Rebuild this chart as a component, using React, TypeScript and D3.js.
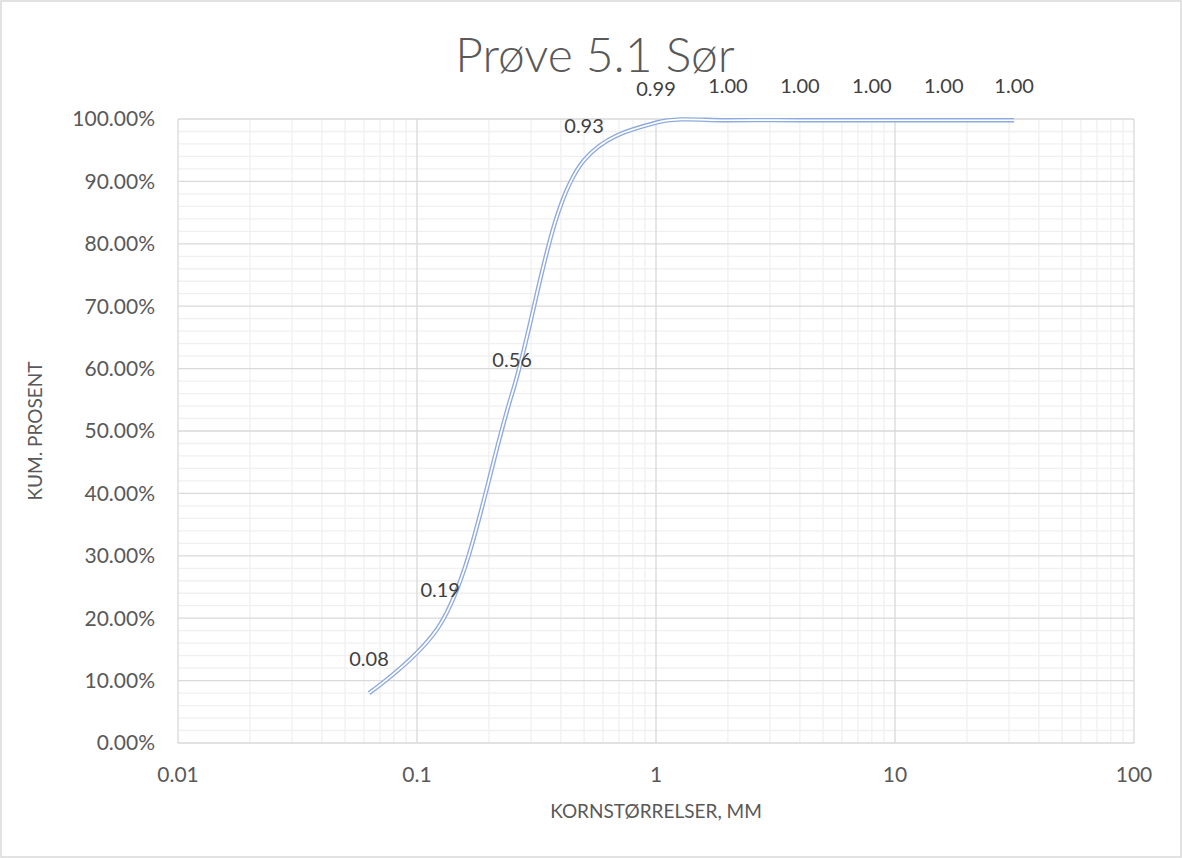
import React, { useEffect, useRef } from 'react';
import * as d3 from 'd3';

// sieve sizes (mm) and cumulative share passing
const sieveSizes = [0.063, 0.125, 0.25, 0.5, 1, 2, 4, 8, 16, 31.5];
const cumShare = [0.08, 0.19, 0.56, 0.934, 0.994, 0.998, 0.998, 0.998, 0.998, 0.998];
const xTicks = [0.01, 0.1, 1, 10, 100];
const yTicks = [0, 0.1, 0.2, 0.3, 0.4, 0.5, 0.6, 0.7, 0.8, 0.9, 1];

const W = 1182, H = 858;
const FONT = 'Lato, "Open Sans", sans-serif';

const App = () => {
    const ref = useRef<SVGSVGElement>(null);

    useEffect(() => {
        const svg = d3.select(ref.current);
        svg.selectAll('*').remove();

        const left = 178, right = 1134, top = 119, bottom = 743;

        const x = d3.scaleLog().domain([0.01, 100]).range([left, right]);
        const y = d3.scaleLinear().domain([0, 1]).range([bottom, top]);

        // chart border
        svg.append('rect')
            .attr('x', 1).attr('y', 1).attr('width', W - 2).attr('height', H - 2)
            .attr('fill', '#fff').attr('stroke', '#d9d9d9').attr('stroke-width', 1.5);

        // minor grid
        const minorX: number[] = [];
        for (let d = 0.01; d < 100; d *= 10) {
            for (let k = 2; k <= 9; k++) minorX.push(d * k);
        }
        const minorY = d3.range(0, 101, 2).filter(v => v % 10 !== 0).map(v => v / 100);

        const grid = svg.append('g');
        grid.selectAll('.mx').data(minorX).enter().append('line')
            .attr('x1', d => x(d)).attr('x2', d => x(d))
            .attr('y1', top).attr('y2', bottom)
            .attr('stroke', '#f0f0f0').attr('stroke-width', 1.3);
        grid.selectAll('.my').data(minorY).enter().append('line')
            .attr('x1', left).attr('x2', right)
            .attr('y1', d => y(d)).attr('y2', d => y(d))
            .attr('stroke', '#f0f0f0').attr('stroke-width', 1.3);
        grid.selectAll('.Mx').data(xTicks).enter().append('line')
            .attr('x1', d => x(d)).attr('x2', d => x(d))
            .attr('y1', top).attr('y2', bottom)
            .attr('stroke', '#d9d9d9').attr('stroke-width', 1.3);
        grid.selectAll('.My').data(yTicks).enter().append('line')
            .attr('x1', left).attr('x2', right)
            .attr('y1', d => y(d)).attr('y2', d => y(d))
            .attr('stroke', '#d9d9d9').attr('stroke-width', 1.3);

        // tick labels
        svg.append('g').selectAll('text').data(yTicks).enter().append('text')
            .attr('x', left - 23).attr('y', d => y(d)).attr('dy', '0.35em')
            .attr('text-anchor', 'end')
            .attr('font-family', FONT).attr('font-size', 21).attr('fill', '#595959')
            .text(d => d3.format('.2%')(d));
        svg.append('g').selectAll('text').data(xTicks).enter().append('text')
            .attr('x', d => x(d)).attr('y', bottom + 39)
            .attr('text-anchor', 'middle')
            .attr('font-family', FONT).attr('font-size', 21).attr('fill', '#595959')
            .text(d => String(d));

        // axis titles
        svg.append('text')
            .attr('x', (left + right) / 2).attr('y', 818)
            .attr('text-anchor', 'middle')
            .attr('font-family', FONT).attr('font-size', 19).attr('fill', '#595959')
            .text('KORNSTØRRELSER, MM');
        svg.append('text')
            .attr('transform', `translate(42, ${(top + bottom) / 2}) rotate(-90)`)
            .attr('text-anchor', 'middle')
            .attr('font-family', FONT).attr('font-size', 19).attr('fill', '#595959')
            .text('KUM. PROSENT');

        // title
        svg.append('text')
            .attr('x', 595).attr('y', 72)
            .attr('text-anchor', 'middle')
            .attr('font-family', FONT).attr('font-weight', 300)
            .attr('font-size', 48).attr('fill', '#595959')
            .text('Prøve 5.1 Sør');

        // smoothed double line
        const pts = sieveSizes.map((s, i) => [s, cumShare[i]] as [number, number]);
        const line = d3.line<[number, number]>()
            .x(d => x(d[0])).y(d => y(d[1]))
            .curve(d3.curveCatmullRom.alpha(0.5));
        svg.append('path').datum(pts).attr('d', line)
            .attr('fill', 'none').attr('stroke', '#8faadc').attr('stroke-width', 4.4);
        svg.append('path').datum(pts).attr('d', line)
            .attr('fill', 'none').attr('stroke', '#fff').attr('stroke-width', 1.7);

        // data labels
        svg.append('g').selectAll('text').data(pts).enter().append('text')
            .attr('x', d => x(d[0])).attr('y', d => y(d[1]) - 27)
            .attr('text-anchor', 'middle')
            .attr('font-family', FONT).attr('font-size', 20).attr('fill', '#404040')
            .text(d => d[1].toFixed(2));
    }, []);

    return <svg ref={ref} width={W} height={H}
        style={{ position: 'absolute', left: 0, top: 0, background: '#fff' }} />;
};

export default App;
